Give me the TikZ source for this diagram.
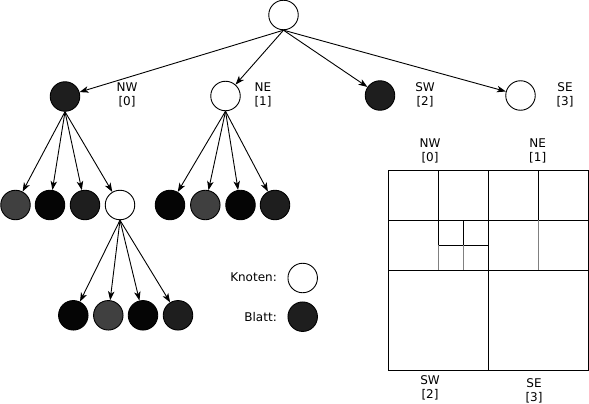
\documentclass[tikz,border=0pt]{standalone}
\usepackage{fontspec}
\setmainfont{DejaVu Sans}
\usetikzlibrary{arrows.meta}
\definecolor{dunkel}{HTML}{1E1E1E}
\definecolor{grau}{HTML}{404040}
\definecolor{schwarz}{HTML}{050505}
\definecolor{hellgrau}{HTML}{808080}
\tikzset{
  kreis/.style={circle,draw,line width=0.9pt,minimum size=29.5pt,inner sep=0pt,fill=#1},
  kreis/.default=white,
  kante/.style={->,>={Stealth[length=9pt,width=6.5pt,inset=2.5pt]},line width=0.9pt},
  beschr/.style={align=center,font=\fontsize{12}{14}\selectfont,inner sep=0pt}
}
\begin{document}
\begin{tikzpicture}[x=1pt,y=-1pt]
\useasboundingbox (0,0) rectangle (589,404);
% Baum
\node[kreis] (root) at (283.5,15) {};
\node[kreis=dunkel] (nw) at (65,96.5) {};
\node[kreis] (ne) at (225.5,96) {};
\node[kreis=dunkel] (sw) at (380,95.5) {};
\node[kreis] (se) at (520.5,95.5) {};
\node[beschr] (nwlab) at (127,95) {NW\\{[0]}};
\node[beschr] (nelab) at (263,95) {NE\\{[1]}};
\node[beschr] (swlab) at (425,95) {SW\\{[2]}};
\node[beschr] (selab) at (565,95) {SE\\{[3]}};
\foreach \c in {nw,ne,sw,se}
{
  \draw[kante] (root.south) -- (\c);
}
\foreach \n/\x/\f in {a1/15.5/grau,a2/50/schwarz,a3/85/dunkel,a4/120/white}
{
  \node[kreis=\f] (\n) at (\x,205) {};
  \draw[kante] (nw.south) -- (\n);
}
\foreach \n/\x/\f in {b1/170/schwarz,b2/205.3/grau,b3/240.5/schwarz,b4/275/dunkel}
{
  \node[kreis=\f] (\n) at (\x,205) {};
  \draw[kante] (ne.south) -- (\n);
}
\foreach \n/\x/\f in {c1/73.3/schwarz,c2/108.3/grau,c3/143/schwarz,c4/178/dunkel}
{
  \node[kreis=\f] (\n) at (\x,315.3) {};
  \draw[kante] (a4.south) -- (\n);
}
% Legende
\node[beschr,anchor=east] (knotenlab) at (277,277.7) {Knoten:};
\node[kreis] (legk) at (302.7,278) {};
\node[beschr,anchor=east] (blattlab) at (277,316.7) {Blatt:};
\node[kreis=dunkel] (legb) at (302.7,316.7) {};
% Quadtree
\draw[line width=1pt] (388,170) rectangle (588,370);
\draw[line width=1pt] (488,170) -- (488,370);
\draw[line width=1pt] (388,270) -- (588,270);
\draw[line width=1pt] (388,220) -- (488,220);
\draw[line width=1pt] (438,170) -- (438,245);
\draw[line width=1pt] (438,245) -- (488,245);
\draw[line width=1pt] (463,220) -- (463,245);
\draw[line width=1pt] (488,220) -- (588,220);
\draw[line width=1pt] (538,170) -- (538,220);
\draw[line width=1pt,hellgrau] (438,245) -- (438,270);
\draw[line width=1pt,hellgrau] (463,245) -- (463,270);
\draw[line width=1pt,hellgrau] (538,220) -- (538,270);
\node[beschr] (qnw) at (430,150.5) {NW\\{[0]}};
\node[beschr] (qne) at (537.7,150.5) {NE\\{[1]}};
\node[beschr] (qsw) at (430,387.5) {SW\\{[2]}};
\node[beschr] (qse) at (534,390.5) {SE\\{[3]}};
\end{tikzpicture}
\end{document}
